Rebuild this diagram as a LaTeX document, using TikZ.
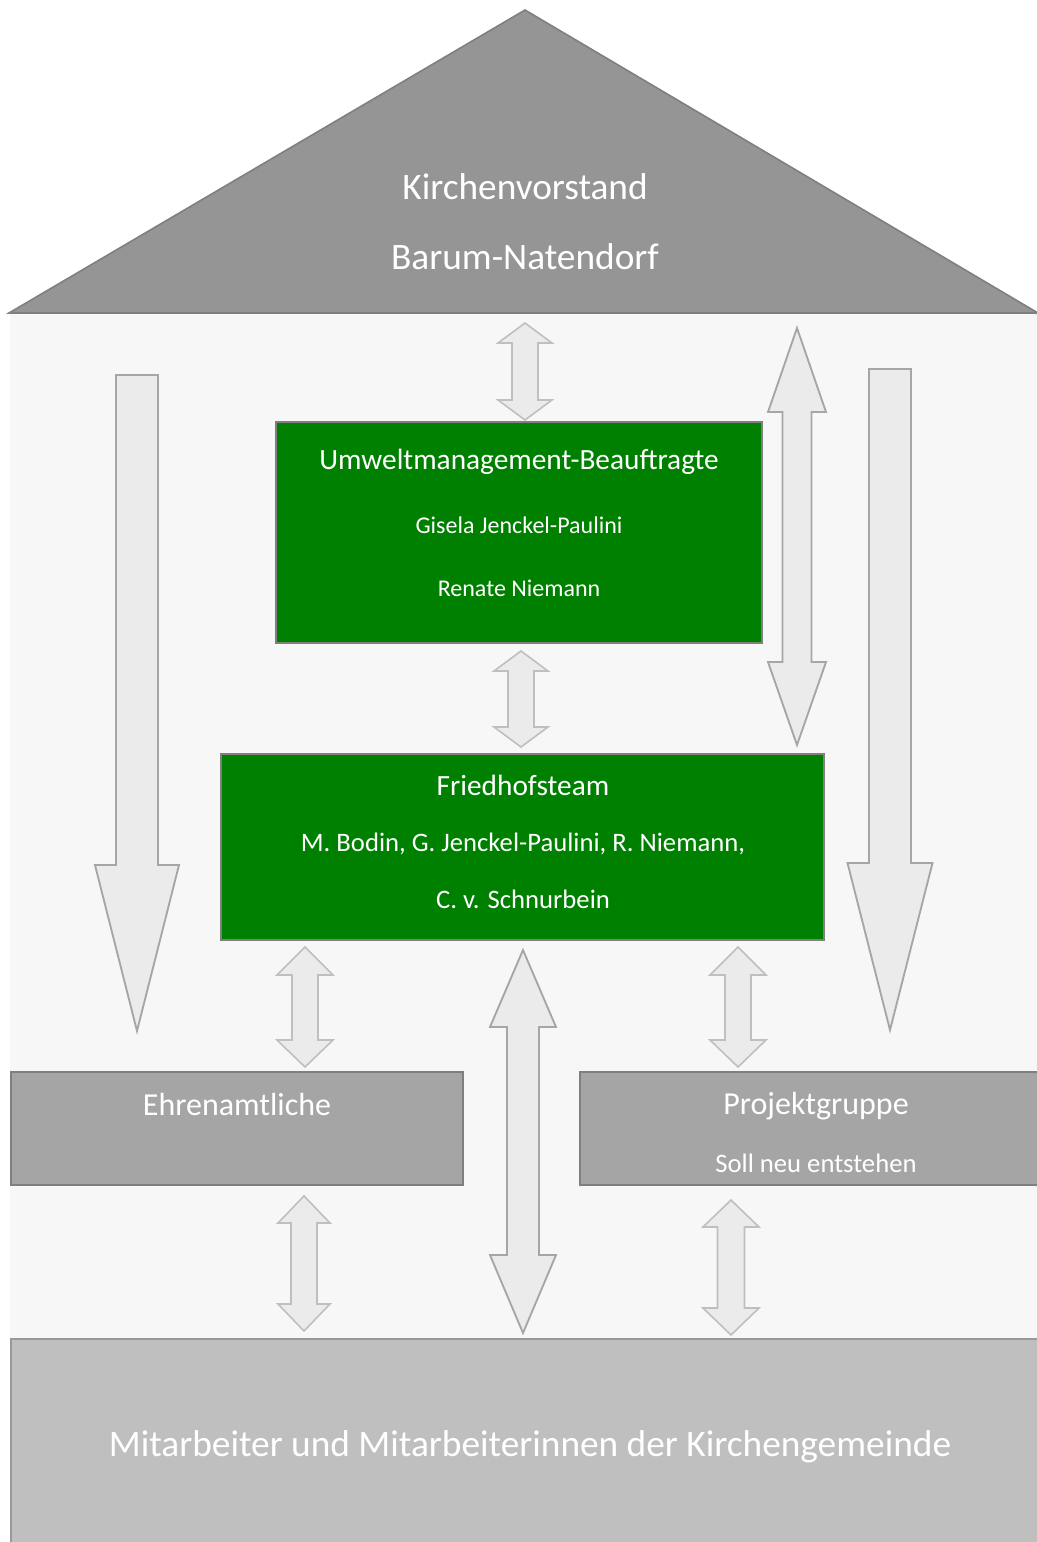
\documentclass[tikz,border=0pt]{standalone}
\usepackage{fontspec}
\setmainfont{Carlito}
\usetikzlibrary{calc}
\definecolor{bgc}{HTML}{F7F7F7}
\definecolor{roofc}{HTML}{959595}
\definecolor{edgec}{HTML}{7F7F7F}
\definecolor{greenc}{HTML}{008000}
\definecolor{boxc}{HTML}{A5A5A5}
\definecolor{basec}{HTML}{BFBFBF}
\definecolor{arrfill}{HTML}{EBEBEB}
\definecolor{arrline}{HTML}{BFBFBF}
\definecolor{bigline}{HTML}{A6A6A6}
\tikzset{
  lbl/.style={text=white, inner sep=0pt, anchor=center},
  greenbox/.style={draw=edgec, line width=1.2pt, fill=greenc},
  graybox/.style={draw=edgec, line width=1.2pt, fill=boxc},
  basebox/.style={draw=edgec!80, line width=1.2pt, fill=basec},
  smallarr/.style={draw=arrline, line width=1.2pt, fill=arrfill, line join=miter},
  bigarr/.style={draw=bigline, line width=1.4pt, fill=arrfill, line join=miter},
}
% double arrow: style, x, ytop, ybot, half head, half shaft, head length top, head length bottom
\newcommand\DblArr[8]{%
  \draw[#1] ({#2},{#3}) -- ({#2+#5},{#3+#7}) -- ({#2+#6},{#3+#7}) -- ({#2+#6},{#4-#8})
    -- ({#2+#5},{#4-#8}) -- ({#2},{#4}) -- ({#2-#5},{#4-#8}) -- ({#2-#6},{#4-#8})
    -- ({#2-#6},{#3+#7}) -- ({#2-#5},{#3+#7}) -- cycle;}
% down arrow: style, x, ytop, ytip, half head, half shaft, head length
\newcommand\DownArr[7]{%
  \draw[#1] ({#2-#6},{#3}) -- ({#2+#6},{#3}) -- ({#2+#6},{#4-#7}) -- ({#2+#5},{#4-#7})
    -- ({#2},{#4}) -- ({#2-#5},{#4-#7}) -- ({#2-#6},{#4-#7}) -- cycle;}
\begin{document}
\begin{tikzpicture}[x=0.75pt,y=-0.75pt]
\useasboundingbox (0,0) rectangle (1036,1542);
% background wall
\fill[bgc] (10,313) rectangle (1040,1545);
% roof
\draw[fill=roofc, draw=edgec, line width=1.2pt, line join=miter] (9,313) -- (525,10) -- (1038,313) -- cycle;
\node[lbl, font=\fontsize{28}{33}\selectfont] (kv1) at (525,187) {Kirchenvorstand};
\node[lbl, font=\fontsize{28}{33}\selectfont] (kv2) at (525,257) {Barum-Natendorf};
% boxes
\draw[greenbox] (276,422) rectangle (762,643);
\node[lbl, font=\fontsize{22}{26}\selectfont] at (519,462) {Umweltmanagement-Beauftragte};
\node[lbl, font=\fontsize{18}{22}\selectfont] at (519,525) {Gisela Jenckel-Paulini};
\node[lbl, font=\fontsize{18}{22}\selectfont] at (519,588) {Renate Niemann};
\draw[greenbox] (221,754) rectangle (824,940);
\node[lbl, font=\fontsize{22}{26}\selectfont] at (523,785) {Friedhofsteam};
\node[lbl, font=\fontsize{20}{24}\selectfont] at (523,844) {M. Bodin, G. Jenckel-Paulini, R. Niemann,};
\node[lbl, font=\fontsize{20}{24}\selectfont] at (523,899) {C. v. Schnurbein};
\draw[graybox] (11,1072) rectangle (463,1185);
\node[lbl, font=\fontsize{24}{28}\selectfont] at (237,1104) {Ehrenamtliche};
\draw[graybox] (580,1072) rectangle (1040,1185);
\node[lbl, font=\fontsize{24}{28}\selectfont] at (816,1106) {Projektgruppe};
\node[lbl, font=\fontsize{20}{24}\selectfont] at (816,1163) {Soll neu entstehen};
\draw[basebox] (11,1339) rectangle (1040,1545);
\node[lbl, font=\fontsize{28}{33}\selectfont] at (530,1447) {Mitarbeiter und Mitarbeiterinnen der Kirchengemeinde};
% arrows
\DblArr{smallarr}{525}{323}{420}{27}{13}{20}{20}
\DblArr{smallarr}{521}{651}{747}{27}{13}{20}{20}
\DblArr{bigarr}{797}{328}{745}{29}{14.5}{84}{83}
\DownArr{bigarr}{137}{375}{1031}{42}{21}{166}
\DownArr{bigarr}{890}{369}{1030}{42.5}{21}{167}
\DblArr{smallarr}{305}{947}{1067}{28}{13}{28}{27}
\DblArr{bigarr}{523}{950}{1333}{33}{16}{77}{78}
\DblArr{smallarr}{738}{947}{1067}{28}{13}{28}{27}
\DblArr{smallarr}{304}{1196}{1331}{26}{13}{27}{27}
\DblArr{smallarr}{731}{1200}{1335}{28}{13.5}{27}{27}
\end{tikzpicture}
\end{document}
